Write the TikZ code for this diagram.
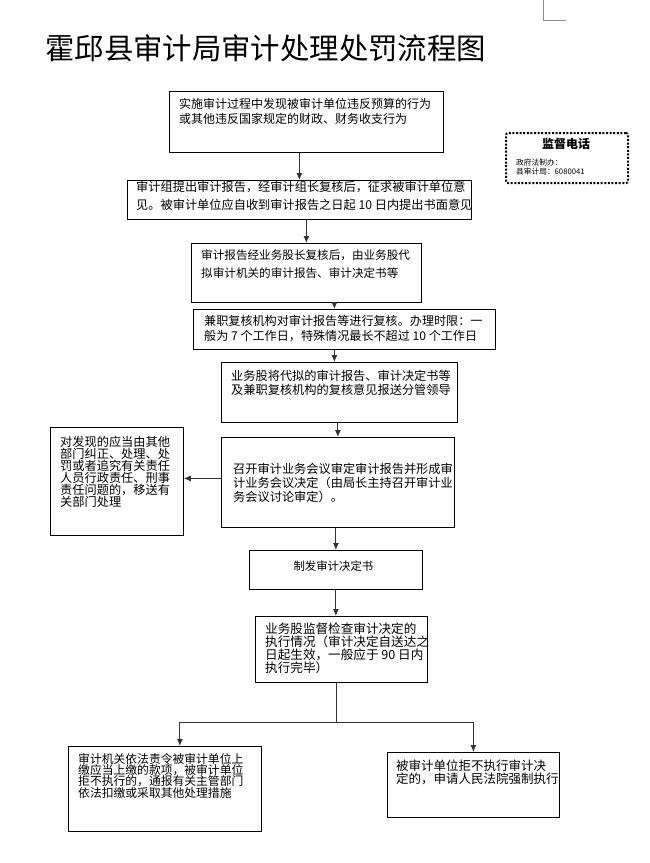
\documentclass[tikz,border=0pt]{standalone}
\usepackage{fontspec}
\newfontfamily\cjk{Noto Sans CJK SC}
\usetikzlibrary{arrows.meta,positioning}

\tikzstyle{box} = [draw, line width=0.8pt, anchor=north west, inner sep=0pt]
\tikzstyle{txt} = [anchor=north west, align=left, inner sep=0pt]
\tikzstyle{arrow} = [draw, line width=0.9pt, black!80, -{Latex[length=7pt,width=6pt]}]
\newcommand{\cn}[2]{\cjk\fontsize{#1}{#2}\selectfont\lineskiplimit=-20pt}

\begin{document}
\begin{tikzpicture}[x=1pt, y=-1pt]
    \useasboundingbox (0,0) rectangle (650,863);

    % page corner mark
    \draw[black!45, line width=0.6pt] (543,0) -- (543,20) -- (566,20);

    % title
    \node[anchor=west, inner sep=0pt, font=\cn{29.4}{32}] (title) at (45,48.5) {霍邱县审计局审计处理处罚流程图};

    % phone box
    \node[box, dash pattern=on 2pt off 1.6pt, line width=2pt, rounded corners=2pt,
        minimum width=122pt, minimum height=50pt] (phone) at (505,132) {};
    \node[inner sep=0pt, font=\cn{12}{14}\bfseries] (phonehd) at (566,144) {监督电话};
    \node[txt, font=\cn{7.7}{9}] (phonetx) at (516,159) {政府法制办：\\县审计局：6080041};

    % main column
    \node[box, minimum width=274pt, minimum height=61pt] (b1) at (169,91) {};
    \node[txt, font=\cn{12}{15.5}] (t1) at (179,98) {实施审计过程中发现被审计单位违反预算的行为\\或其他违反国家规定的财政、财务收支行为};

    \node[box, minimum width=344pt, minimum height=39pt] (b2) at (127,180) {};
    \node[txt, font=\cn{12.2}{18}] (t2) at (136,181) {审计组提出审计报告，经审计组长复核后，征求被审计单位意\\见。被审计单位应自收到审计报告之日起 10 日内提出书面意见};

    \node[box, minimum width=230pt, minimum height=59pt] (b3) at (191,243) {};
    \node[txt, font=\cn{11.6}{18}] (t3) at (201,249) {审计报告经业务股长复核后，由业务股代\\拟审计机关的审计报告、审计决定书等};

    \node[box, minimum width=302pt, minimum height=40pt] (b4) at (193,309) {};
    \node[txt, font=\cn{12.1}{15}] (t4) at (204,315) {兼职复核机构对审计报告等进行复核。办理时限：一\\般为 7 个工作日，特殊情况最长不超过 10 个工作日};

    \node[box, minimum width=236pt, minimum height=60pt] (b5) at (221,362) {};
    \node[txt, font=\cn{12.2}{14}] (t5) at (231,370) {业务股将代拟的审计报告、审计决定书等\\及兼职复核机构的复核意见报送分管领导};

    \node[box, minimum width=233pt, minimum height=90pt] (b6) at (221,437) {};
    \node[txt, font=\cn{12.2}{14}] (t6) at (233,463) {召开审计业务会议审定审计报告并形成审\\计业务会议决定（由局长主持召开审计业\\务会议讨论审定）。};

    \node[box, minimum width=133pt, minimum height=108pt] (side) at (50,427) {};
    \node[txt, font=\cn{12.2}{11.9}] (ts) at (60,436) {对发现的应当由其他\\部门纠正、处理、处\\罚或者追究有关责任\\人员行政责任、刑事\\责任问题的，移送有\\关部门处理};

    \node[box, minimum width=173pt, minimum height=39pt] (b7) at (249,550) {};
    \node[inner sep=0pt, font=\cn{11.4}{14}] (t7) at ([shift={(-2.5,-3.5)}]b7.center) {制发审计决定书};

    \node[box, minimum width=172pt, minimum height=66pt] (b8) at (255,616) {};
    \node[txt, font=\cn{12.6}{13}] (t8) at (265,623) {业务股监督检查审计决定的\\执行情况（审计决定自送达之\\日起生效，一般应于 90 日内\\执行完毕）};

    % outcomes
    \node[box, minimum width=193pt, minimum height=85pt] (bl) at (68,746) {};
    \node[txt, font=\cn{11.8}{11.3}] (tl) at (78,753) {审计机关依法责令被审计单位上\\缴应当上缴的款项，被审计单位\\拒不执行的，通报有关主管部门\\依法扣缴或采取其他处理措施};

    \node[box, minimum width=172pt, minimum height=65pt] (br) at (387,752) {};
    \node[txt, font=\cn{12.5}{12.8}] (tr) at (396,760) {被审计单位拒不执行审计决\\定的，申请人民法院强制执行};

    % connectors
    \draw[arrow] (b1.south -| b2.north) -- (b2.north);
    \draw[arrow] (b2.south -| b3.north) -- (b3.north);
    \draw[arrow] ([xshift=28pt]b3.south) -- ([xshift=28pt]b3.south |- b4.north);
    \draw[arrow] ([xshift=-5pt]b5.north |- b4.south) -- ([xshift=-5pt]b5.north);
    \draw[arrow] (b5.south -| b6.north) -- (b6.north);
    \draw[arrow] ([yshift=4pt]b6.west) -- ([yshift=4pt]b6.west -| side.east);
    \draw[arrow] (b6.south -| b7.north) -- (b7.north);
    \draw[arrow] (b7.south) -- (b7.south |- b8.north);

    \coordinate (split) at (336,722);
    \draw[line width=0.9pt, black!80] (b8.south -| split) -- (split);
    \draw[arrow] (split) -| ([xshift=15pt]bl.north);
    \draw[arrow] (split) -| (br.north);
\end{tikzpicture}
\end{document}
